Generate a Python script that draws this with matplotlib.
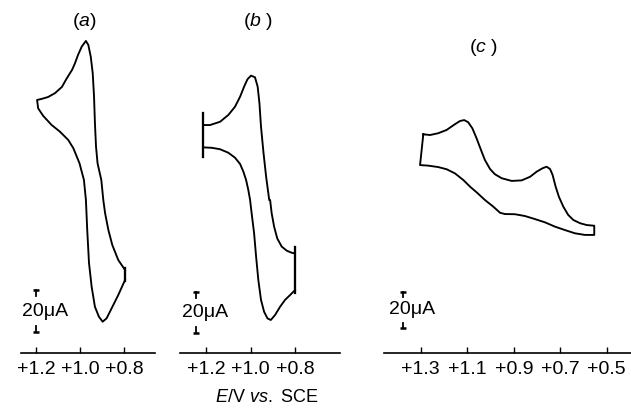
import matplotlib
matplotlib.use("Agg")
import matplotlib.pyplot as plt
from matplotlib.ticker import FixedLocator, FixedFormatter

plt.rcParams['font.family'] = ['Liberation Sans', 'DejaVu Sans']
plt.rcParams['mathtext.fontset'] = 'custom'
plt.rcParams['mathtext.rm'] = 'Liberation Sans'
plt.rcParams['mathtext.it'] = 'Liberation Sans:italic'

# ---------------- data (E in V vs. SCE, current in uA, arbitrary offset) ----------------
# panel (a): one closed trace starting at the +0.8 V switching point
a_E = [0.795, 0.826, 0.853, 0.871, 0.886, 0.894, 0.903, 0.920, 0.927, 0.932,
       0.936, 0.942, 0.951, 0.962, 0.973,
       0.992, 1.009, 1.023, 1.036, 1.060, 1.082, 1.114, 1.145, 1.174, 1.195,
       1.190, 1.167, 1.129, 1.091, 1.053, 1.030, 1.002, 0.982, 0.973, 0.967,
       0.959, 0.947, 0.932, 0.914, 0.897, 0.879, 0.856, 0.826, 0.795]
a_i = [39.5, 44.3, 51.4, 58.6, 66.7, 72.9, 82.4, 90.3, 98.2, 109.4,
       122.0, 133.2, 141.1, 146.7, 148.6,
       145.9, 141.9, 137.9, 134.8, 130.8, 126.7, 123.7, 121.9, 121.0, 120.5,
       116.5, 112.9, 108.6, 105.4, 101.4, 97.5, 90.3, 82.4, 72.9, 58.6,
       42.9, 31.6, 22.0, 17.3, 14.9, 16.5, 21.3, 27.6, 34.8]
a_vertex_E = [0.795]
a_vertex_i = [(40.5, 34.3)]

# panel (b): forward branch (left switch -> right switch) and return branch
b_E = [1.213, 1.182, 1.137, 1.100, 1.070, 1.047, 1.029, 1.014, 0.998, 0.980, 0.968,
       0.960, 0.953, 0.942, 0.930, 0.916, 0.912, 0.905, 0.894, 0.880, 0.860, 0.837,
       0.815, 0.800]
b_i = [111.2, 111.2, 112.8, 116.1, 120.1, 125.0, 129.9, 133.5, 135.3, 134.5, 129.9,
       121.8, 110.4, 97.9, 86.0, 74.6, 74.6, 68.1, 61.6, 55.9, 51.9, 49.9,
       48.9, 48.6]
b_E_ret = [0.800, 0.822, 0.845, 0.867, 0.890, 0.909, 0.924, 0.939, 0.953, 0.965,
           0.975, 0.984, 0.995, 1.002, 1.010, 1.020, 1.032, 1.047, 1.070, 1.100,
           1.137, 1.174, 1.212]
b_i_ret = [30.7, 28.3, 25.9, 22.6, 18.5, 16.1, 16.9, 20.1, 25.9, 35.6,
           47.0, 58.4, 68.1, 74.6, 79.5, 84.4, 88.4, 92.2, 95.3, 97.7,
           99.4, 100.1, 100.3]
b_vertex_E = [1.213, 0.800]
b_vertex_i = [(117.1, 95.6), (51.7, 29.3)]

# panel (c): closed trace
c_E = [1.289, 1.260, 1.225, 1.189, 1.153, 1.131, 1.113, 1.096, 1.078, 1.060, 1.041,
       1.024, 1.002, 0.981, 0.952, 0.909, 0.866, 0.830, 0.802, 0.777, 0.759, 0.744,
       0.733, 0.720, 0.706, 0.687, 0.666, 0.644, 0.615, 0.587, 0.554,
       0.554, 0.594, 0.637, 0.680, 0.723, 0.766, 0.809, 0.852, 0.895, 0.938, 0.959,
       0.988, 1.024, 1.060, 1.088, 1.117, 1.153, 1.189, 1.225, 1.268, 1.303, 1.289]
c_i = [121.5, 121.1, 122.1, 123.9, 127.1, 128.9, 129.4, 128.2, 124.8, 119.3, 112.8,
       107.2, 102.2, 99.3, 97.1, 95.6, 95.9, 97.9, 100.7, 102.6, 103.5, 102.2,
       98.9, 92.4, 86.8, 81.3, 76.7, 73.9, 72.1, 71.1, 70.7,
       65.6, 65.6, 66.5, 68.3, 70.2, 72.6, 74.4, 76.1, 77.1, 77.2, 77.9,
       81.3, 85.0, 89.3, 92.4, 96.1, 99.8, 102.1, 103.3, 104.1, 104.4, 121.5]

a_ticks = [1.2, 1.0, 0.8]
a_labels = ['+1.2', '+1.0', '+0.8']
b_ticks = [1.2, 1.0, 0.8]
b_labels = ['+1.2', '+1.0', '+0.8']
c_ticks = [1.3, 1.1, 0.9, 0.7, 0.5]
c_labels = ['+1.3', '+1.1', '+0.9', '+0.7', '+0.5']

title_letters = ['a', 'b', 'c']
title_close = [')', ' )', ' )']
scale_uA = 20
scale_label = '20μA'

# ---------------- layout ----------------
W, H = 631, 416
fig = plt.figure(figsize=(W / 100, H / 100), dpi=100)

def add_ax(x0, x1, ytop=10, ybot=353):
    return fig.add_axes([x0 / W, (H - ybot) / H, (x1 - x0) / W, (ybot - ytop) / H])

LW = 1.35
FS = 14

def style(ax, xlim, ylim, ticks, labels):
    ax.set_xlim(*xlim)
    ax.set_ylim(*ylim)
    for s in ('top', 'left', 'right'):
        ax.spines[s].set_visible(False)
    ax.spines['bottom'].set_linewidth(1.2)
    ax.yaxis.set_visible(False)
    ax.xaxis.set_major_locator(FixedLocator(ticks))
    ax.xaxis.set_major_formatter(FixedFormatter(labels))
    ax.tick_params(axis='x', direction='in', length=4, width=1.0, pad=6, labelsize=FS)
    ax.patch.set_alpha(0)

def scale_bar(ax, E, bottom):
    top = bottom + scale_uA
    stub = scale_uA * 0.14
    ax.plot([E, E], [top, top - stub], color='black', lw=1.3, clip_on=False)
    ax.plot([E, E], [bottom, bottom + stub], color='black', lw=1.3, clip_on=False)
    ax.plot([E], [top], marker='_', ms=5, mew=1.8, color='black', clip_on=False)
    ax.plot([E], [bottom], marker='_', ms=5, mew=1.8, color='black', clip_on=False)
    ax.annotate(scale_label, xy=(E, bottom + scale_uA / 2), xytext=(-10, 0),
                textcoords='offset points', ha='left', va='center', fontsize=FS)

def vbar(ax, E, lo_hi):
    ax.plot([E, E], list(lo_hi), color='black', lw=LW + 0.3, clip_on=False)

# panel (a): px/uA = 2.1
axa = add_ax(21, 155)
style(axa, (1.268, 0.659), (0, 343 / 2.1), a_ticks, a_labels)
axa.plot(a_E, a_i, color='black', lw=LW, solid_joinstyle='round')
for E, r in zip(a_vertex_E, a_vertex_i):
    vbar(axa, E, r)
scale_bar(axa, 1.2, 10.0)

# panel (b): px/uA = 2.05
axb = add_ax(180, 340)
style(axb, (1.317, 0.598), (0, 343 / 2.05), b_ticks, b_labels)
axb.plot(b_E, b_i, color='black', lw=LW, solid_joinstyle='round')
axb.plot(b_E_ret, b_i_ret, color='black', lw=LW, solid_joinstyle='round')
for E, r in zip(b_vertex_E, b_vertex_i):
    vbar(axb, E, r)
scale_bar(axb, 1.245, 9.8)

# panel (c): px/uA = 1.8
axc = add_ax(384, 631)
style(axc, (1.458, 0.396), (0, 343 / 1.8), c_ticks, c_labels)
axc.plot(c_E, c_i, color='black', lw=LW, solid_joinstyle='round')
scale_bar(axc, 1.377, 13.9)

# titles
title_pos = [(84, 22), (258, 22), (483, 48)]
for (px, py), l, c in zip(title_pos, title_letters, title_close):
    fig.text(px / W, 1 - py / H, '(' + r'$\it{' + l + '}$' + c, ha='center', va='center',
             fontsize=FS)

fig.text(267 / W, 1 - 398 / H, r'$\it{E}$/V $\it{vs.}$ SCE', ha='center', va='center',
         fontsize=13)

fig.savefig('out.png', dpi=100)
